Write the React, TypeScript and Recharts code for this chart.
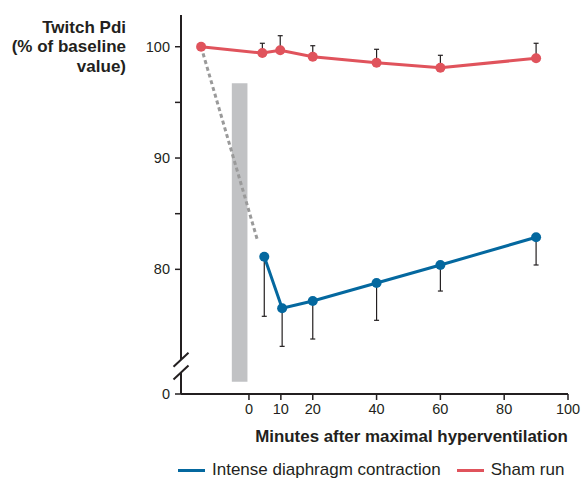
import React from "react";
import {
  LineChart,
  Line,
  XAxis,
  YAxis,
  ErrorBar,
  ReferenceArea,
  ReferenceDot,
  Label,
} from "recharts";

// minutes after hyperventilation (baseline plotted before 0)
const shamMinutes = [-15, 4.2, 9.8, 20, 40, 60, 90];
const shamValues = [100, 99.43, 99.68, 99.1, 98.56, 98.11, 98.96];
const shamErrUp = [null, 0.88, 1.31, 0.99, 1.21, 1.12, 1.35];

const intenseMinutes = [4.8, 10.4, 20, 40, 60, 90];
const intenseValues = [81.13, 76.5, 77.15, 78.77, 80.39, 82.88];
const intenseErrDown = [5.35, 3.42, 3.41, 3.35, 2.34, 2.49];

// dotted drop from baseline towards the first contraction point
const dropMinutes = [-15, 2.65];
const dropValues = [100, 82.63];

// grey window = the hyperventilation bout
const boutStart = -5.37;
const boutEnd = -0.47;
const boutLow = 69.9;
const boutHigh = 96.71;

const xTicks = [0, 10, 20, 40, 60, 80, 100];
const yTicks = [68.8, 80, 85, 90, 95, 100];
const yTickText: Record<number, string> = { 68.8: "0", 80: "80", 90: "90", 100: "100" };
const axisBreakAt = 71.31;

const RED = "#e0535c";
const BLUE = "#04689f";
const INK = "#231f20";
const FONT = "'Liberation Sans', Arial, Helvetica, sans-serif";

const shamData = shamMinutes.map((m, i) => ({
  minute: m,
  value: shamValues[i],
  err: shamErrUp[i] == null ? null : [0, shamErrUp[i]],
}));
const intenseData = intenseMinutes.map((m, i) => ({
  minute: m,
  value: intenseValues[i],
  err: [intenseErrDown[i], 0],
}));
const dropData = dropMinutes.map((m, i) => ({ minute: m, value: dropValues[i] }));

const AxisBreak = (props: any) => {
  const { cx, cy } = props;
  return (
    <g>
      <rect x={cx - 4} y={cy - 6} width={8} height={12.5} fill="#fff" />
      <line x1={cx - 7.5} y1={cy + 0.7} x2={cx + 7.5} y2={cy - 13.3} stroke={INK} strokeWidth={2} />
      <line x1={cx - 7.5} y1={cy + 13.5} x2={cx + 7.5} y2={cy - 0.5} stroke={INK} strokeWidth={2} />
    </g>
  );
};

const YTitle = (props: any) => {
  const vb = props.viewBox;
  const x = vb.x + vb.width - 55;
  return (
    <text x={x} y={vb.y} textAnchor="end" fontFamily={FONT} fontWeight="bold" fontSize={17} fill={INK}>
      <tspan x={x} dy={17.5}>Twitch Pdi</tspan>
      <tspan x={x} dy={19.5}>(% of baseline</tspan>
      <tspan x={x} dy={19.5}>value)</tspan>
    </text>
  );
};

const XTitle = (props: any) => {
  const vb = props.viewBox;
  return (
    <text x={vb.x + vb.width / 2 + 37} y={vb.y + 48} textAnchor="middle" fontFamily={FONT} fontWeight="bold" fontSize={16.9} fill={INK}>
      Minutes after maximal hyperventilation
    </text>
  );
};

const legendItems = [
  { name: "Intense diaphragm contraction", color: BLUE },
  { name: "Sham run", color: RED },
];

export default function App() {
  return (
    <div style={{ position: "relative", width: 583, height: 478, fontFamily: FONT }}>
      <style>{"body{margin:0;}"}</style>
      <LineChart width={583} height={478} margin={{ top: 15, right: 15, bottom: 44, left: 0 }}>
        <ReferenceArea x1={boutStart} x2={boutEnd} y1={boutLow} y2={boutHigh} fill="#c1c2c4" fillOpacity={1} stroke="none" />
        <XAxis
          type="number"
          dataKey="minute"
          domain={[-21.3, 100]}
          ticks={xTicks}
          height={40}
          tickSize={6}
          tickMargin={4}
          axisLine={{ stroke: INK, strokeWidth: 2 }}
          tickLine={{ stroke: INK, strokeWidth: 1.5 }}
          tick={{ fill: INK, fontSize: 14.5, fontFamily: FONT }}
        >
          <Label content={XTitle} />
        </XAxis>
        <YAxis
          type="number"
          domain={[68.8, 102.85]}
          ticks={yTicks}
          width={181}
          tickSize={6}
          tickMargin={5}
          tickFormatter={(v: number) => yTickText[v] ?? ""}
          axisLine={{ stroke: INK, strokeWidth: 2 }}
          tickLine={{ stroke: INK, strokeWidth: 1.5 }}
          tick={{ fill: INK, fontSize: 14.5, fontFamily: FONT }}
        >
          <Label content={YTitle} />
        </YAxis>
        <Line
          data={dropData}
          dataKey="value"
          stroke="#9a9a9a"
          strokeWidth={3}
          strokeDasharray="4 3"
          dot={false}
          activeDot={false}
          isAnimationActive={false}
        />
        <Line
          data={shamData}
          dataKey="value"
          name="Sham run"
          stroke={RED}
          strokeWidth={3}
          dot={{ r: 5, fill: RED, stroke: RED, strokeWidth: 0 }}
          activeDot={false}
          isAnimationActive={false}
        >
          <ErrorBar dataKey="err" direction="y" width={2.5} stroke={INK} strokeWidth={1.2} />
        </Line>
        <Line
          data={intenseData}
          dataKey="value"
          name="Intense diaphragm contraction"
          stroke={BLUE}
          strokeWidth={3}
          dot={{ r: 5, fill: BLUE, stroke: BLUE, strokeWidth: 0 }}
          activeDot={false}
          isAnimationActive={false}
        >
          <ErrorBar dataKey="err" direction="y" width={2.5} stroke={INK} strokeWidth={1.2} />
        </Line>
        <ReferenceDot x={-21.3} y={axisBreakAt} r={0} shape={AxisBreak} ifOverflow="visible" />
      </LineChart>
      <div
        style={{
          position: "absolute",
          left: 178,
          top: 460,
          display: "flex",
          alignItems: "center",
          fontSize: 17,
          lineHeight: "20px",
          color: INK,
          whiteSpace: "nowrap",
        }}
      >
        {legendItems.map((item, i) => (
          <div key={item.name} style={{ display: "flex", alignItems: "center", marginRight: i === 0 ? 16 : 0 }}>
            <span style={{ display: "inline-block", width: 27, height: 3, background: item.color, marginRight: 7 }} />
            <span>{item.name}</span>
          </div>
        ))}
      </div>
    </div>
  );
}
